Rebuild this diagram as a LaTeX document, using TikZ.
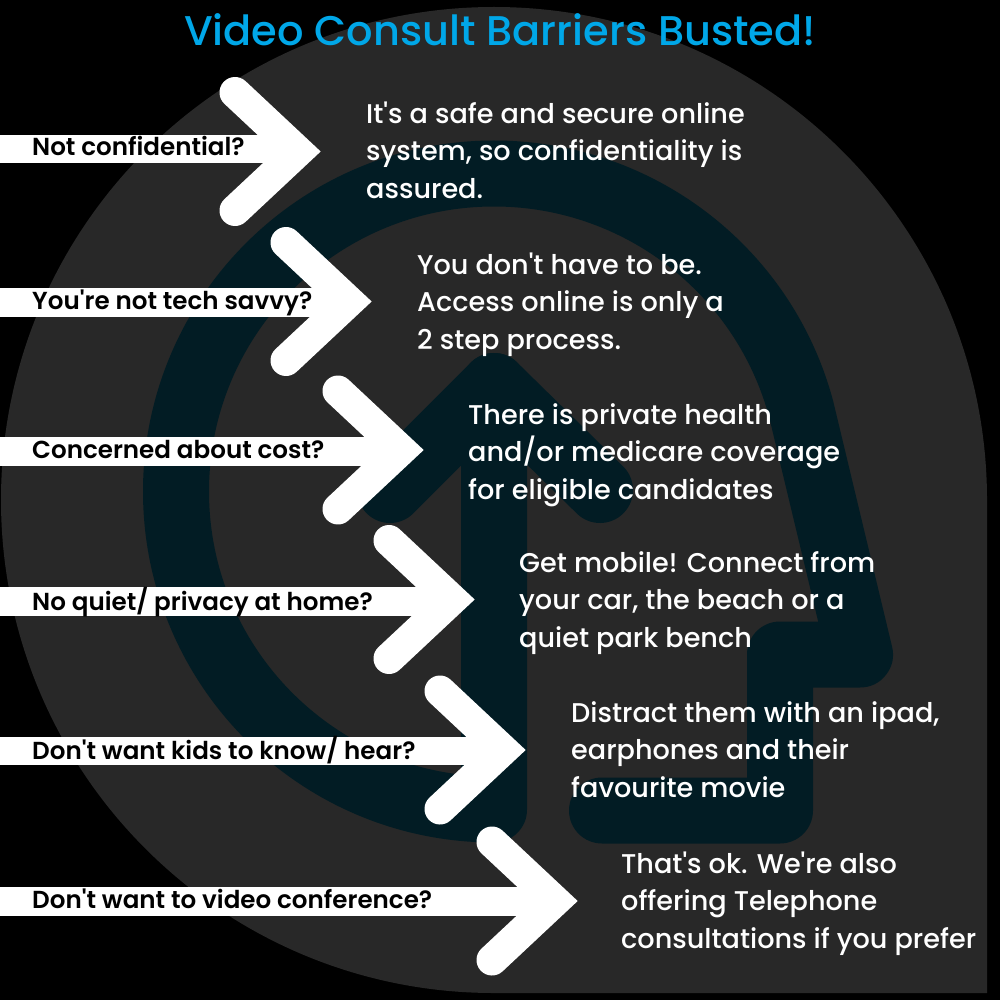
\documentclass[tikz,border=0pt]{standalone}
\usepackage{fontspec}
\setmainfont{Poppins}[Ligatures=TeXOff,UprightFont=* Medium,BoldFont=* SemiBold]
\usetikzlibrary{calc}
\definecolor{logogrey}{RGB}{40,40,40}
\definecolor{logoteal}{RGB}{2,28,36}
\definecolor{titleblue}{RGB}{0,167,232}
\tikzset{
  logoline/.style={draw=logoteal, line width=66pt, line cap=round, line join=round},
  qshaft/.style={draw=white, line width=28.5pt},
  qhead/.style={draw=white, line width=31pt, line cap=round, line join=miter},
  qtext/.style={anchor=west, inner sep=0pt, text=black, font=\fontsize{24.6}{28}\selectfont\bfseries},
  atext/.style={anchor=west, inner sep=0pt, text=white, align=left, font=\fontsize{27.1}{37.4}\selectfont},
  titletext/.style={inner sep=0pt, text=titleblue, font=\fontsize{41.5}{44}\selectfont}
}
\newcommand{\barrier}[8]{
  \coordinate (start#1) at (0,#3);
  \coordinate (end#1) at (#4-30,#3);
  \coordinate (elbow#1) at (#4-23,#2);
  \coordinate (top#1) at (#4-86,#2-59);
  \coordinate (bot#1) at (#4-86,#2+59);
  \draw[qshaft] (start#1) -- (end#1);
  \draw[qhead] (top#1) -- (elbow#1) -- (bot#1);
  \node[qtext] (q#1) at (32,#3+1.2) {\strut #7\strut};
  \node[atext] (a#1) at (#5,#6) {\strut #8\strut};
}
\begin{document}
\begin{tikzpicture}[x=1pt,y=-1pt]
  \useasboundingbox (0,0) rectangle (1000,1000);
  \fill[black] (0,0) rectangle (1000,1000);
  \fill[logogrey] (987,993) -- (987,500) arc[start angle=0, end angle=-270, radius=493] -- cycle;
  \draw[logoline] (390,490) -- (494,386) -- (600,490);
  \draw[logoline] (494,386) -- (494,809.5) arc[start angle=90, end angle=345, radius=318]
    -- (860,654.5) -- (780,654.5) -- (780,810.5) -- (602,810.5);
  \node[titletext] (title) at (500,30) {Video Consult Barriers Busted!};
  \barrier{1}{151.5}{149}{321}{366}{153.3}{Not confidential?}{It's a safe and secure online\\system, so confidentiality is\\assured.}
  \barrier{2}{301.5}{302.5}{372}{417}{304.5}{You're not tech savvy?}{You don't have to be.\\Access online is only a\\2 step process.}
  \barrier{3}{450}{451.7}{424}{468}{454.2}{Concerned about cost?}{There is private health\\and/or medicare coverage\\for eligible candidates}
  \barrier{4}{599.5}{601.5}{475}{519}{602.5}{No quiet/ privacy at home?}{Get mobile! Connect from\\your car, the beach or a\\quiet park bench}
  \barrier{5}{750}{751}{526}{571}{752.2}{Don't want kids to know/ hear?}{Distract them with an ipad,\\earphones and their\\favourite movie}
  \barrier{6}{901}{901.7}{578}{621}{903.3}{Don't want to video conference?}{That's ok. We're also\\offering Telephone\\consultations if you prefer}
\end{tikzpicture}
\end{document}
